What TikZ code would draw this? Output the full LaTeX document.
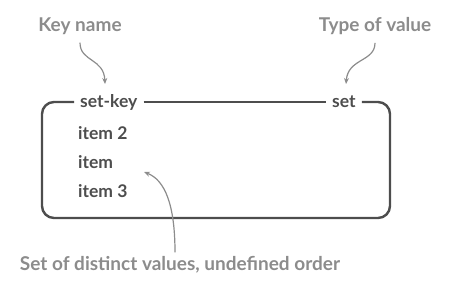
\documentclass[tikz,border=0pt]{standalone}
\usepackage{fontspec}
\setmainfont{Lato}
\usetikzlibrary{positioning,arrows.meta,calc}
\definecolor{NoteGray}{HTML}{8C8C8C}
\definecolor{BoxDark}{HTML}{4D4D4D}

\tikzset{
  note/.style={font=\fontsize{19}{21}\selectfont\bfseries, NoteGray, inner sep=1pt},
  entry/.style={font=\fontsize{17.5}{20}\selectfont\bfseries, BoxDark, inner sep=1pt, anchor=west},
  pointer/.style={NoteGray, line width=1.2pt, -{Stealth[length=6pt,width=5pt]}},
  frame/.style={BoxDark, line width=2.4pt, rounded corners=12pt}
}

\begin{document}
\begin{tikzpicture}[x=1pt, y=-1pt]
  \useasboundingbox (0,0) rectangle (450,285);
  % labels on the frame
  \node[entry] (setkey) at (79,102) {set-key};
  \node[entry] (settype) at (331,102) {set};
  % members
  \node[entry] (itemb) at (77,133) {item 2};
  \node[entry] (itema) at (77,162) {item};
  \node[entry] (itemc) at (77,191) {item 3};
  % the frame, broken where the two labels sit
  \draw[BoxDark, line width=2.4pt] ($(setkey.east)+(5,0)$) -- ($(settype.west)+(-5,0)$);
  \draw[frame] ($(settype.east)+(5,0)$) -- (390,102) -- (390,218) -- (42,218) -- (42,102)
    -- ($(setkey.west)+(-5,0)$);
  % notes
  \node[note] (keyname) at (80,26) {Key name};
  \node[note] (typename) at (375,26) {Type of value};
  \node[note] (setnote) at (180,265) {Set of distinct values, undefined order};
  \coordinate (keytip) at (105,84);
  \coordinate (typetip) at (346,84);
  \coordinate (itemtip) at (144,172);
  \draw[pointer] (keyname.south) ++(0,7) .. controls (80,62) and (104,58) .. (keytip);
  \draw[pointer] (typename.south) ++(0,7) .. controls (375,62) and (348,58) .. (typetip);
  \draw[pointer] (setnote.north) ++(-5,-3) .. controls (175,205) and (165,180) .. (itemtip);
\end{tikzpicture}
\end{document}
